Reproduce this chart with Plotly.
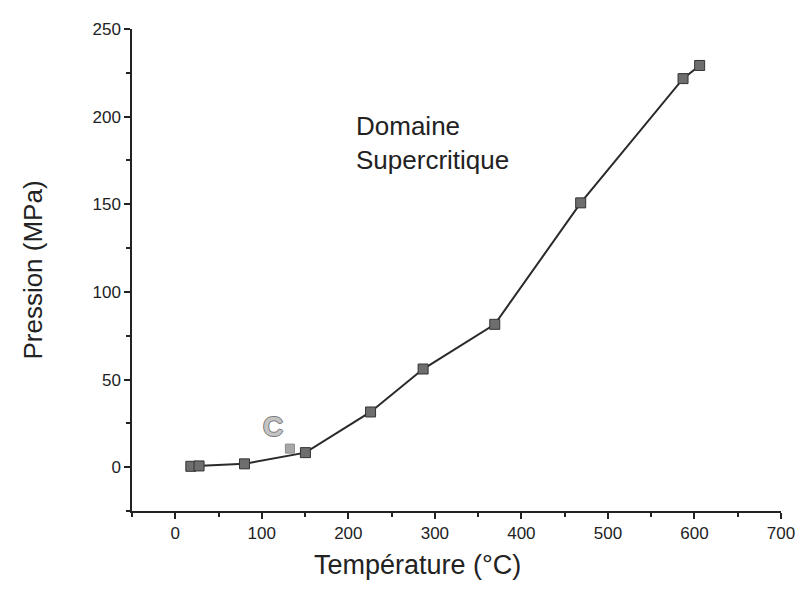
import plotly.graph_objects as go

# Data
temperature = [18, 27.5, 80, 150.4, 225.7, 286.4, 369.2, 468.5, 586.8, 606]
pression = [0.5, 0.7, 1.9, 8.3, 31.5, 56, 81.5, 150.8, 221.7, 229.2]

critical_T = [132.5]
critical_P = [10.6]

x_ticks = [0, 100, 200, 300, 400, 500, 600, 700]
y_ticks = [0, 50, 100, 150, 200, 250]

FONT = "Liberation Sans, Arial, sans-serif"

fig = go.Figure()
fig.add_trace(go.Scatter(
    x=temperature, y=pression, mode="lines+markers",
    line=dict(color="#2a2a2a", width=2),
    marker=dict(symbol="square", size=10, color="#6e6e6e",
                line=dict(color="#333333", width=1)),
    showlegend=False, cliponaxis=False,
))
fig.add_trace(go.Scatter(
    x=critical_T, y=critical_P, mode="markers",
    marker=dict(symbol="square", size=9, color="#a8a8a8",
                line=dict(color="#8a8a8a", width=1)),
    showlegend=False,
))

fig.add_annotation(x=113, y=23.2, text="<b>C</b>", showarrow=False,
                   font=dict(family=FONT, size=28, color="#c4c4c4",
                             shadow="1px 0 0 #7a7a7a, -1px 0 0 #7a7a7a, 0 1px 0 #7a7a7a, 0 -1px 0 #7a7a7a"),
                   xanchor="center", yanchor="middle")
fig.add_annotation(x=207, y=185, text="Domaine<br>Supercritique", showarrow=False,
                   font=dict(family=FONT, size=26, color="#222222"),
                   xanchor="left", yanchor="middle", align="left")

# x-axis title (placed left of centre, as in the reference)
fig.add_annotation(x=279.5, xref="x", y=0, yref="paper", yshift=-54,
                   text="Température (°C)", showarrow=False,
                   font=dict(family=FONT, size=27, color="#222222"),
                   xanchor="center", yanchor="middle")

axis_common = dict(
    showline=True, linecolor="#222222", linewidth=1.5,
    ticks="outside", ticklen=6, tickwidth=1.5, tickcolor="#222222",
    showgrid=False, zeroline=False, mirror=False,
    tickfont=dict(family=FONT, size=17, color="#222222"),
)

fig.update_xaxes(
    range=[-50, 700], tickvals=x_ticks, ticktext=[str(v) for v in x_ticks],
    minor=dict(ticks="outside", ticklen=4, tickwidth=1.5, tickcolor="#222222", dtick=50, tick0=-50),
    **axis_common,
)
fig.update_yaxes(
    range=[-25, 250], tickvals=y_ticks, ticktext=[str(v) for v in y_ticks],
    minor=dict(ticks="outside", ticklen=4, tickwidth=1.5, tickcolor="#222222", dtick=25, tick0=-25),
    title=dict(text="Pression (MPa)", font=dict(family=FONT, size=26, color="#222222"), standoff=42),
    **axis_common,
)

fig.update_layout(
    width=799, height=581,
    margin=dict(l=124, r=20, t=17, b=78),
    paper_bgcolor="white", plot_bgcolor="white",
)

fig.write_html("out.html")
